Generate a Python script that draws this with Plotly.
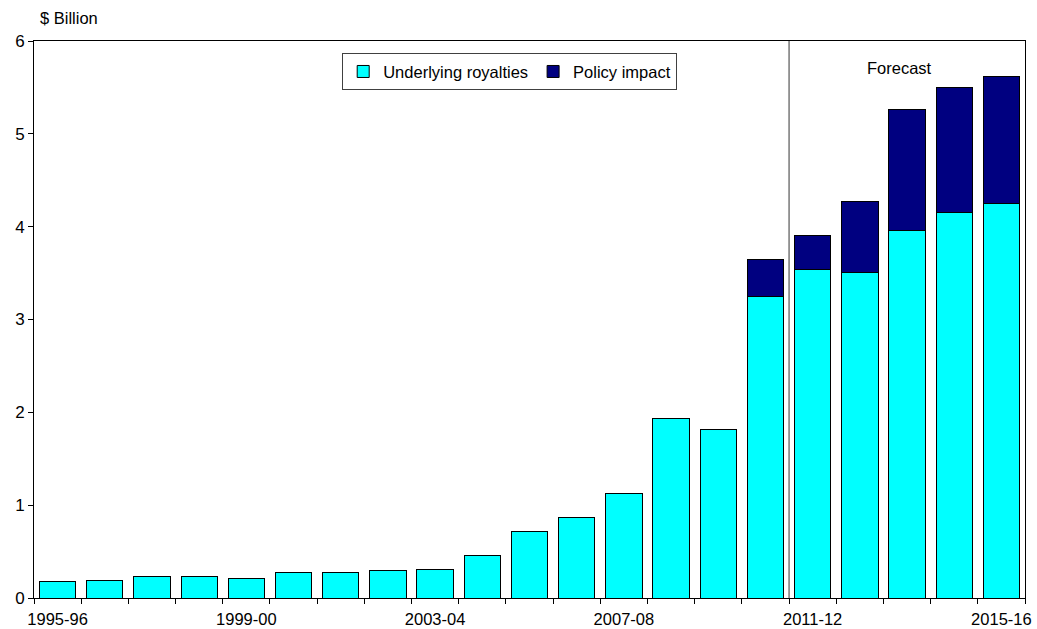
import plotly.graph_objects as go

years = ["1995-96", "1996-97", "1997-98", "1998-99", "1999-00", "2000-01", "2001-02",
         "2002-03", "2003-04", "2004-05", "2005-06", "2006-07", "2007-08", "2008-09",
         "2009-10", "2010-11", "2011-12", "2012-13", "2013-14", "2014-15", "2015-16"]
underlying = [0.18, 0.19, 0.23, 0.23, 0.21, 0.28, 0.28, 0.30, 0.31, 0.46, 0.72, 0.87,
              1.13, 1.93, 1.82, 3.25, 3.54, 3.51, 3.96, 4.15, 4.25]
policy = [None] * 15 + [0.40, 0.37, 0.76, 1.30, 1.35, 1.37]
labelled = ["1995-96", "1999-00", "2003-04", "2007-08", "2011-12", "2015-16"]
y_ticks = [0, 1, 2, 3, 4, 5, 6]

FONT = "Liberation Sans, Arial, sans-serif"

fig = go.Figure()
fig.add_trace(go.Bar(x=years, y=underlying, name="Underlying royalties",
                     marker=dict(color="#00FFFF", line=dict(color="black", width=1))))
fig.add_trace(go.Bar(x=years, y=policy, name="Policy impact",
                     marker=dict(color="#000080", line=dict(color="black", width=1))))

fig.add_shape(type="line", xref="x", yref="paper", x0=15.5, x1=15.5, y0=0, y1=1,
              line=dict(color="#333333", width=1))
fig.add_annotation(x=17.85, y=5.71, xref="x", yref="y", text="Forecast", showarrow=False,
                   font=dict(size=16.5, color="black", family=FONT))
fig.add_annotation(x=0, y=1, xref="paper", yref="paper", xshift=4, yshift=12,
                   xanchor="left", yanchor="bottom", text="$ Billion", showarrow=False,
                   font=dict(size=16.5, color="black", family=FONT))

fig.update_layout(
    width=1037, height=629,
    margin=dict(l=34, r=12, t=41, b=31),
    barmode="stack", bargap=0.23,
    plot_bgcolor="white", paper_bgcolor="white",
    font=dict(family=FONT, size=16.5, color="black"),
    showlegend=True,
    legend=dict(orientation="h", x=0.311, y=0.978, xanchor="left", yanchor="top",
                bordercolor="#404040", borderwidth=1, bgcolor="white",
                itemwidth=30, tracegroupgap=0,
                font=dict(size=16.5, family=FONT), traceorder="normal"),
    xaxis=dict(type="category", categoryorder="array", categoryarray=years,
               tickmode="array", tickvals=years,
               ticktext=[y if y in labelled else "" for y in years],
               tickangle=0, automargin=False, ticklabelstandoff=6,
               tickson="boundaries", ticks="outside", ticklen=5, tickcolor="black",
               showline=True, linecolor="black", linewidth=1, mirror=True,
               showgrid=False, zeroline=False, range=[-0.5, 20.5]),
    yaxis=dict(range=[0, 6], tickvals=y_ticks, ticks="outside", ticklen=5,
               automargin=False, tickfont=dict(size=17),
               tickcolor="black", showline=True, linecolor="black", linewidth=1,
               mirror=True, showgrid=False, zeroline=False),
)

fig.write_html("out.html")
